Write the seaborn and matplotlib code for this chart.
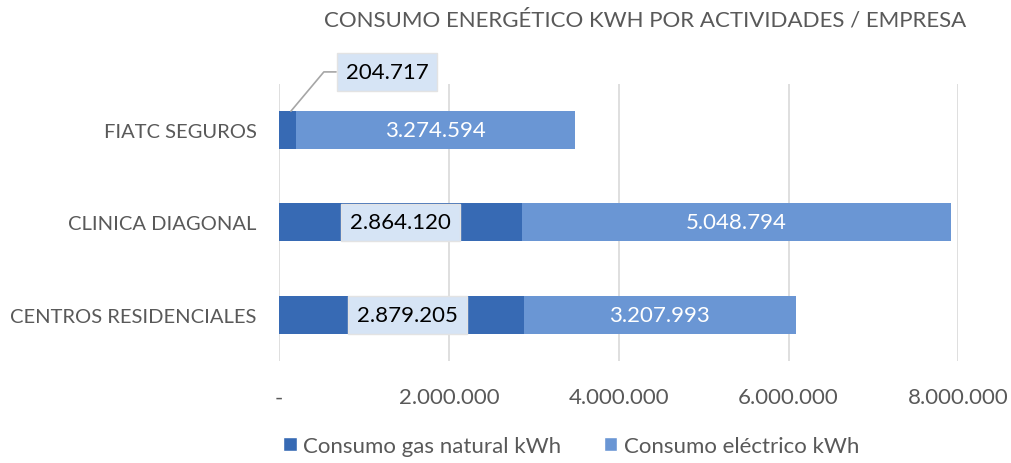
import matplotlib
matplotlib.use("Agg")
import matplotlib.pyplot as plt
import matplotlib.ticker as mticker
from matplotlib.patches import Patch
import seaborn as sns
import pandas as pd

# Data
empresas = ["FIATC SEGUROS", "CLINICA DIAGONAL", "CENTROS RESIDENCIALES"]
gas_kwh = [204717, 2864120, 2879205]
electrico_kwh = [3274594, 5048794, 3207993]
series = ["Consumo gas natural kWh", "Consumo eléctrico kWh"]
titulo = "CONSUMO ENERGÉTICO KWH POR ACTIVIDADES / EMPRESA"

GAS_COLOR = "#376AB4"
ELEC_COLOR = "#6A96D4"
BOX_COLOR = "#D6E4F5"
TEXT_GRAY = "#595959"


def fmt_es(v, pos=None):
    if v == 0:
        return "-"
    return f"{v:,.0f}".replace(",", ".")


def main():
    sns.set_theme(style="white")
    plt.rcParams["font.family"] = ["Lato", "DejaVu Sans"]

    df = pd.DataFrame({"empresa": empresas, "gas": gas_kwh, "elec": electrico_kwh})
    df["total"] = df["gas"] + df["elec"]

    fig = plt.figure(figsize=(10.11, 4.64), dpi=100)
    ax = fig.add_axes([0.276, 0.22, 0.672, 0.597])

    # stacked bars: total first (electric colour), then gas over it
    sns.barplot(data=df, y="empresa", x="total", color=ELEC_COLOR, width=0.41,
                saturation=1, ax=ax, edgecolor="none")
    sns.barplot(data=df, y="empresa", x="gas", color=GAS_COLOR, width=0.41,
                saturation=1, ax=ax, edgecolor="none")

    ax.set_xlim(0, 8000000)
    ax.set_ylim(2.5, -0.5)
    ax.xaxis.set_major_locator(mticker.MultipleLocator(2000000))
    ax.xaxis.set_major_formatter(mticker.FuncFormatter(fmt_es))
    ax.grid(axis="x", color="#D9D9D9", linewidth=1.2)
    ax.set_axisbelow(True)
    for s in ax.spines.values():
        s.set_visible(False)
    ax.set_xlabel("")
    ax.set_ylabel("")
    ax.tick_params(axis="x", length=0, pad=19, labelsize=16, labelcolor=TEXT_GRAY)
    ax.tick_params(axis="y", length=0, pad=16, labelsize=14.5, labelcolor=TEXT_GRAY)

    # electric labels, centred on the electric segment
    for i, row in df.iterrows():
        ax.text(row["gas"] + row["elec"] / 2, i, fmt_es(row["elec"]),
                ha="center", va="center", color="white", fontsize=16)

    box = dict(boxstyle="square,pad=0.4", facecolor=BOX_COLOR,
               edgecolor="#E3E3E3", linewidth=1)
    # gas labels
    ax.annotate(fmt_es(gas_kwh[0]), xy=(140000, -0.205), xytext=(1270000, -0.63),
                ha="center", va="center", fontsize=16, color="black", bbox=box,
                annotation_clip=False,
                arrowprops=dict(arrowstyle="-", color="#A6A6A6", lw=1.2,
                                connectionstyle="angle,angleA=0,angleB=50,rad=0",
                                shrinkA=0, shrinkB=0))
    offsets = {1: 0, 2: 70000}
    for i in (1, 2):
        ax.text(gas_kwh[i] / 2 + offsets[i], i, fmt_es(gas_kwh[i]),
                ha="center", va="center", fontsize=16, color="black", bbox=box)

    fig.text(645 / 1011, 1 - 20 / 464, titulo, ha="center", va="center",
             fontsize=16, color=TEXT_GRAY)

    handles = [Patch(facecolor=GAS_COLOR), Patch(facecolor=ELEC_COLOR)]
    fig.legend(handles, series, loc="center", bbox_to_anchor=(0.565, 0.037),
               ncol=2, frameon=False, fontsize=16, labelcolor=TEXT_GRAY,
               handlelength=0.6, handleheight=0.6, handletextpad=0.3,
               columnspacing=1.9)

    fig.savefig("out.png", dpi=100)


if __name__ == "__main__":
    main()
